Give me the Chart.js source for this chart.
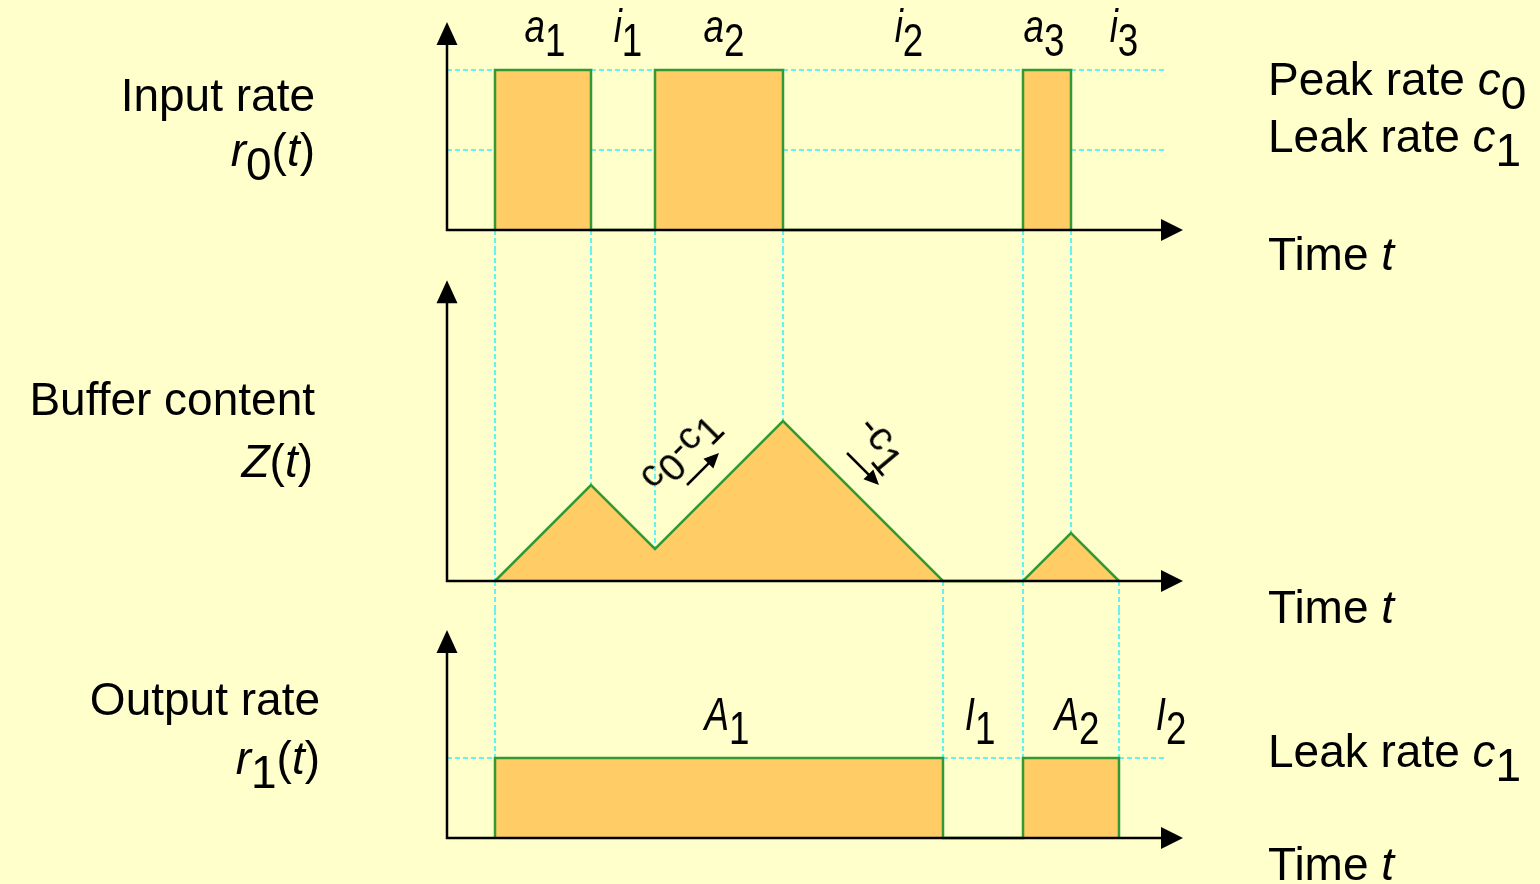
<!DOCTYPE html>
<html>
<head>
<meta charset="utf-8">
<script src="https://cdn.jsdelivr.net/npm/chart.js@4.4.0/dist/chart.umd.min.js"></script>
<style>
  html, body { margin: 0; padding: 0; width: 1540px; height: 884px; overflow: hidden; background: #FFFFCC; }
  canvas { position: absolute; left: 0; }
  .lbl { position: absolute; font-family: 'Liberation Sans', Arial, sans-serif; color: #000; white-space: nowrap; }
  .lbl sub { font-size: 100%; vertical-align: -0.3em; line-height: 0; }
</style>
</head>
<body>
<canvas id="rateIn" width="1540" height="250" style="top:0px"></canvas>
<canvas id="buffer" width="1540" height="360" style="top:250px"></canvas>
<canvas id="rateOut" width="1540" height="274" style="top:610px"></canvas>
<script>
// time in drawing steps, rates in units of c1
const pulseStart = [3, 13, 36];
const pulseEnd = [9, 21, 39];
const peakRate = 2;   // c0
const leakRate = 1;   // c1

const bufferT = [3, 9, 13, 21, 31, 36, 39, 42];
const bufferZ = [0, 6, 2, 10, 0, 0, 3, 0];

const outStart = [3, 36];
const outEnd = [31, 42];

const topLabelText = ['a', 'i', 'a', 'i', 'a', 'i'];
const topLabelSub = ['1', '1', '2', '2', '3', '3'];
const topLabelX = [6.1, 11.3, 17.3, 28.9, 37.3, 42.3];
const topLabelLevel = 2.35;

const botLabelText = ['A', 'I', 'A', 'I'];
const botLabelSub = ['1', '1', '2', '2'];
const botLabelX = [17.5, 33.3, 39.4, 45.25];
const botLabelLevel = 1.35;

const guideEnd = 45;
const axisEnd = 46;

const fillColor = '#FFCC66';
const edgeColor = '#339933';
const guideColor = '#33F0FF';

function steps(starts, ends, h) {
    let pts = [];
    starts.forEach((s, i) => {
        pts.push({x: s, y: 0}, {x: s, y: h}, {x: ends[i], y: h}, {x: ends[i], y: 0});
    });
    return pts;
}

function zAt(t) {
    return bufferZ[bufferT.indexOf(t)];
}

function guide(x1, y1, x2, y2) {
    return {
        data: [{x: x1, y: y1}, {x: x2, y: y2}],
        borderColor: guideColor,
        borderWidth: 1.5,
        borderDash: [5, 3],
        fill: false,
        order: 2
    };
}

function shape(points) {
    return {
        data: points,
        borderColor: edgeColor,
        backgroundColor: fillColor,
        borderWidth: 2.5,
        fill: 'origin',
        order: 1
    };
}

function head(ctx, x1, y1, x2, y2, w) {
    const ang = Math.atan2(y2 - y1, x2 - x1);
    const len = Math.hypot(x2 - x1, y2 - y1);
    ctx.save();
    ctx.translate(x2, y2);
    ctx.rotate(ang);
    ctx.beginPath();
    ctx.moveTo(0, 0);
    ctx.lineTo(-len, -w);
    ctx.lineTo(-len, w);
    ctx.closePath();
    ctx.fill();
    ctx.restore();
}

// black axes with arrow heads, plus the small slope arrows
function axesPlugin(yTop, arrows) {
    return {
        id: 'axes',
        afterDatasetsDraw(chart) {
            const ctx = chart.ctx;
            const sx = chart.scales.x, sy = chart.scales.y;
            const ox = sx.getPixelForValue(0), oy = sy.getPixelForValue(0);
            const tx = sx.getPixelForValue(axisEnd), ty = sy.getPixelForValue(yTop);
            ctx.save();
            ctx.strokeStyle = '#000';
            ctx.fillStyle = '#000';
            ctx.lineWidth = 2.5;
            ctx.lineJoin = 'miter';
            ctx.beginPath();
            ctx.moveTo(ox, ty + 20);
            ctx.lineTo(ox, oy);
            ctx.lineTo(tx - 20, oy);
            ctx.stroke();
            head(ctx, ox, ty + 23, ox, ty, 10.5);
            head(ctx, tx - 22, oy, tx, oy, 11);

            arrows.forEach(a => {
                const x1 = sx.getPixelForValue(a.from[0]), y1 = sy.getPixelForValue(a.from[1]);
                const x2 = sx.getPixelForValue(a.to[0]), y2 = sy.getPixelForValue(a.to[1]);
                const ang = Math.atan2(y2 - y1, x2 - x1);
                ctx.lineWidth = 2.5;
                ctx.beginPath();
                ctx.moveTo(x1, y1);
                ctx.lineTo(x2 - 10 * Math.cos(ang), y2 - 10 * Math.sin(ang));
                ctx.stroke();
                head(ctx, x2 - 15 * Math.cos(ang), y2 - 15 * Math.sin(ang), x2, y2, 7);
            });
            ctx.restore();
        }
    };
}

function makeChart(id, yMin, yMax, datasets, yTop, arrows) {
    return new Chart(document.getElementById(id), {
        type: 'line',
        data: { datasets: datasets },
        options: {
            responsive: false,
            animation: false,
            devicePixelRatio: 1,
            events: [],
            layout: { padding: { left: 447, right: 357, top: 0, bottom: 0 } },
            scales: {
                x: { type: 'linear', min: 0, max: axisEnd, display: false },
                y: { type: 'linear', min: yMin, max: yMax, display: false }
            },
            elements: { point: { radius: 0 }, line: { tension: 0 } },
            plugins: { legend: { display: false }, tooltip: { enabled: false } }
        },
        plugins: [axesPlugin(yTop, arrows || [])]
    });
}

// input rate r0(t)
const topMin = -0.25, topMax = 2.875;
let topSets = [
    guide(0, peakRate, guideEnd, peakRate),
    guide(0, leakRate, guideEnd, leakRate)
];
pulseStart.concat(pulseEnd).forEach(t => topSets.push(guide(t, 0, t, topMin)));
topSets.push(shape(steps(pulseStart, pulseEnd, peakRate)));
const chartIn = makeChart('rateIn', topMin, topMax, topSets, 2.6);

// buffer content Z(t)
const midMin = -1.8125, midMax = 20.6875;
let midSets = [];
pulseStart.concat(pulseEnd).forEach(t => midSets.push(guide(t, midMax, t, zAt(t))));
outStart.concat(outEnd).forEach(t => midSets.push(guide(t, 0, t, midMin)));
midSets.push(shape(bufferT.map((t, i) => ({x: t, y: bufferZ[i]}))));
const slopeArrows = [
    {from: [15, 6], to: [17, 8]},
    {from: [25, 8], to: [27, 6]}
];
const chartBuf = makeChart('buffer', midMin, midMax, midSets, 18.8, slopeArrows);

// output rate r1(t)
const botMin = -0.575, botMax = 2.85;
let botSets = [guide(0, leakRate, guideEnd, leakRate)];
outStart.concat(outEnd).forEach(t => botSets.push(guide(t, botMax, t, leakRate)));
botSets.push(shape(steps(outStart, outEnd, leakRate)));
const chartOut = makeChart('rateOut', botMin, botMax, botSets, 2.6);

// ---- text ----
function putLabel(html, x, base, align, size, rot, squeeze) {
    size = size || 46;
    const d = document.createElement('div');
    d.className = 'lbl';
    d.innerHTML = html;
    d.style.fontSize = size + 'px';
    d.style.lineHeight = size + 'px';
    const asc = 0.8466 * size;
    d.style.left = x + 'px';
    d.style.top = (base - asc) + 'px';
    if (align === 'center') d.style.transform = 'translateX(-50%)' + (squeeze ? ' scaleX(' + squeeze + ')' : '');
    if (align === 'right') d.style.transform = 'translateX(-100%)';
    if (rot) {
        d.style.transformOrigin = '0px ' + asc + 'px';
        d.style.transform = 'rotate(' + rot + 'deg)';
    }
    document.body.appendChild(d);
}

function px(chart, xv, yv) {
    return [chart.scales.x.getPixelForValue(xv), chart.canvas.offsetTop + chart.scales.y.getPixelForValue(yv)];
}

topLabelText.forEach((s, i) => {
    const p = px(chartIn, topLabelX[i], topLabelLevel);
    putLabel('<i>' + s + '</i><sub>' + topLabelSub[i] + '</sub>', p[0], p[1], 'center', 46, 0, 0.8);
});
botLabelText.forEach((s, i) => {
    const p = px(chartOut, botLabelX[i], botLabelLevel);
    putLabel('<i>' + s + '</i><sub>' + botLabelSub[i] + '</sub>', p[0], p[1], 'center', 46, 0, 0.8);
});

let p = px(chartBuf, 12.9, 5.7);
putLabel('c<sub>0</sub>-c<sub>1</sub>', p[0], p[1], 'left', 38, -45);
p = px(chartBuf, 25.6, 9.6);
putLabel('-c<sub>1</sub>', p[0], p[1], 'left', 40, 50);

// left titles
putLabel('Input rate', 315, 111, 'right');
putLabel('<i>r</i><sub>0</sub>(<i>t</i>)', 315, 166, 'right');
putLabel('Buffer content', 315, 415, 'right');
putLabel('<i>Z</i>(<i>t</i>)', 313, 477, 'right');
putLabel('Output rate', 320, 715, 'right');
putLabel('<i>r</i><sub>1</sub>(<i>t</i>)', 320, 774, 'right');

// right titles
putLabel('Peak rate <i>c</i><sub>0</sub>', 1268, 95, 'left');
putLabel('Leak rate <i>c</i><sub>1</sub>', 1268, 152, 'left');
putLabel('Time <i>t</i>', 1268, 270, 'left');
putLabel('Time <i>t</i>', 1268, 623, 'left');
putLabel('Leak rate <i>c</i><sub>1</sub>', 1268, 767, 'left');
putLabel('Time <i>t</i>', 1268, 880, 'left');
</script>
</body>
</html>
